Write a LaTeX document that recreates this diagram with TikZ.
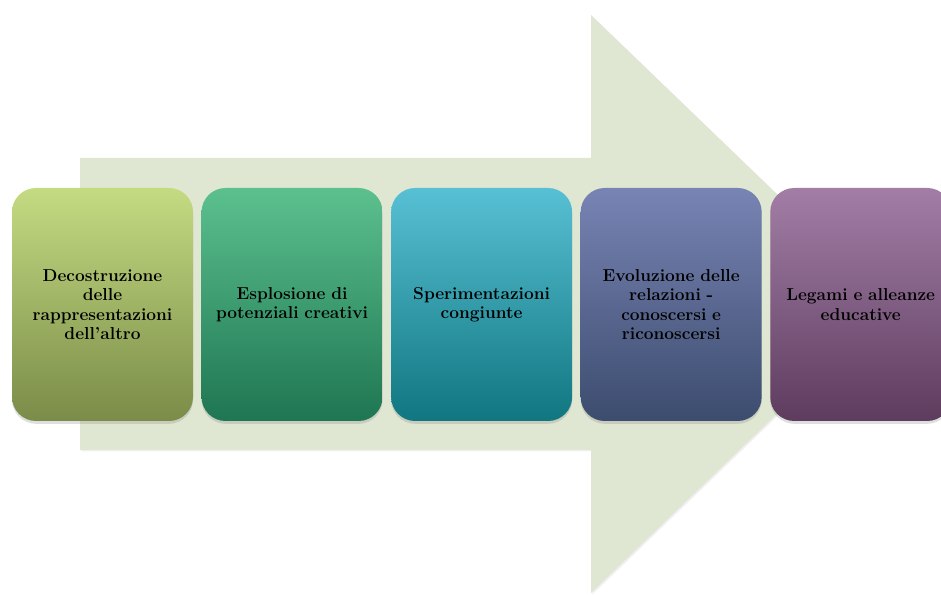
\documentclass[tikz,border=0pt]{standalone}
\usetikzlibrary{positioning, shadows}

\definecolor{arrowbg}{RGB}{223,230,210}
\definecolor{limetop}{RGB}{196,219,130}
\definecolor{limebot}{RGB}{122,140,72}
\definecolor{greentop}{RGB}{92,192,142}
\definecolor{greenbot}{RGB}{30,118,82}
\definecolor{tealtop}{RGB}{88,192,212}
\definecolor{tealbot}{RGB}{16,118,128}
\definecolor{bluetop}{RGB}{120,132,180}
\definecolor{bluebot}{RGB}{60,76,110}
\definecolor{plumtop}{RGB}{162,126,166}
\definecolor{plumbot}{RGB}{94,60,94}

\begin{document}
\begin{tikzpicture}[
    stage/.style={rounded corners=0.6cm, align=center, text width=4.2cm,
        minimum width=4.525cm, minimum height=5.825cm,
        font=\fontsize{12.3}{13.7}\selectfont\bfseries,
        drop shadow={shadow xshift=0pt, shadow yshift=-2pt, opacity=0.25}},
    bigarrow/.style={fill=arrowbg,
        drop shadow={shadow xshift=1pt, shadow yshift=-1pt, opacity=0.12}}
]
\useasboundingbox (0,0) rectangle (23.525,14.875);
\clip (0,0) rectangle (23.525,14.875);

% background arrow
\path[bigarrow] (2,10.925) -- (14.775,10.925) -- (14.775,14.5)
    -- (22.275,7.275) -- (14.775,0.05) -- (14.775,3.625) -- (2,3.625) -- cycle;

\node[stage, top color=limetop, bottom color=limebot] (s1) at (2.5625,7.2625)
    {Decostruzione\\delle\\rappresentazioni\\dell'altro};
\node[stage, top color=greentop, bottom color=greenbot, right=0.2cm of s1] (s2)
    {Esplosione di\\potenziali creativi};
\node[stage, top color=tealtop, bottom color=tealbot, right=0.2cm of s2] (s3)
    {Sperimentazioni\\congiunte};
\node[stage, top color=bluetop, bottom color=bluebot, right=0.2cm of s3] (s4)
    {Evoluzione delle\\relazioni -\\conoscersi e\\riconoscersi};
\node[stage, top color=plumtop, bottom color=plumbot, right=0.2cm of s4] (s5)
    {Legami e alleanze\\educative};
\end{tikzpicture}
\end{document}
